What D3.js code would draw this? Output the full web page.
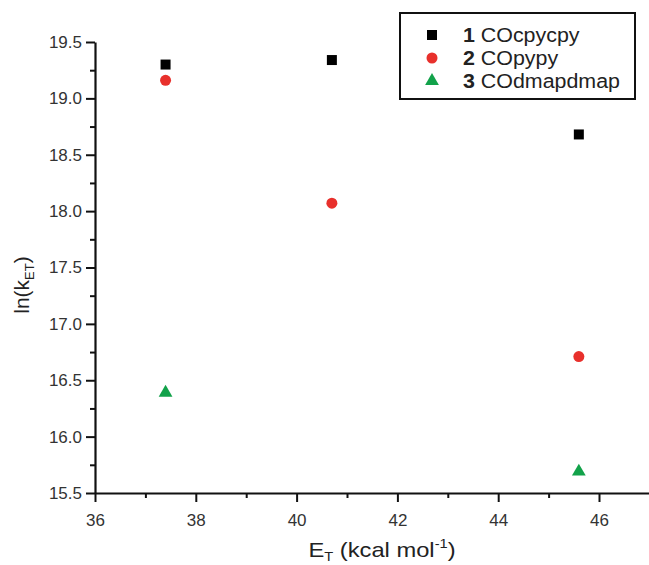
<!DOCTYPE html>
<html><head><meta charset="utf-8">
<script src="https://cdn.jsdelivr.net/npm/d3@7"></script>
<style>
body{margin:0;background:#fff;}
svg{display:block;font-family:"Liberation Sans",Arial,Helvetica,sans-serif;}
</style></head>
<body>
<svg id="chart" width="649" height="565"></svg>
<script>
const xValues = [37.4, 40.7, 45.6];
const series1 = [19.30, 19.34, 18.68];   // 1 COcpycpy
const series2 = [19.16, 18.07, 16.71];   // 2 COpypy
const series3 = [16.39, null, 15.69];    // 3 COdmapdmap
const seriesNames = ["COcpycpy", "COpypy", "COdmapdmap"];
const seriesNums = ["1", "2", "3"];
const xTicks = [36, 38, 40, 42, 44, 46];
const yTicks = [15.5, 16.0, 16.5, 17.0, 17.5, 18.0, 18.5, 19.0, 19.5];

const svg = d3.select("#chart");
const x = d3.scaleLinear().domain([36, 47]).range([95, 649.4]);
const y = d3.scaleLinear().domain([15.5, 19.5]).range([493, 42]);

const xMinor = d3.range(37, 47, 2);
const yMinor = d3.range(15.75, 19.5, 0.5);

const gx = svg.append("g").attr("transform", `translate(0,${y(15.5)})`);
gx.call(d3.axisBottom(x).tickValues(xTicks).tickFormat(d3.format("d")).tickSize(9).tickSizeOuter(0));
const gxm = svg.append("g").attr("transform", `translate(0,${y(15.5)})`);
gxm.call(d3.axisBottom(x).tickValues(xMinor).tickFormat("").tickSize(5).tickSizeOuter(0));
gxm.select(".domain").remove();

const gy = svg.append("g").attr("transform", `translate(${x(36)},0)`);
gy.call(d3.axisLeft(y).tickValues(yTicks).tickFormat(d3.format(".1f")).tickSize(9).tickSizeOuter(0));
const gym = svg.append("g").attr("transform", `translate(${x(36)},0)`);
gym.call(d3.axisLeft(y).tickValues(yMinor).tickFormat("").tickSize(5).tickSizeOuter(0));
gym.select(".domain").remove();

svg.selectAll(".domain").attr("stroke", "#111").attr("stroke-width", 2.2);
svg.selectAll(".tick line").attr("stroke", "#111").attr("stroke-width", 2);
gx.selectAll(".tick text").attr("font-size", 17).attr("fill", "#333").attr("dy", "1.25em")
  .attr("font-family", "Liberation Sans, Arial, sans-serif");
gy.selectAll(".tick text").attr("font-size", 17).attr("fill", "#333").attr("x", -13)
  .attr("font-family", "Liberation Sans, Arial, sans-serif");

// axis labels
const xl = svg.append("text").attr("transform", "translate(382,557) scale(1.13,1)").attr("text-anchor", "middle")
  .attr("font-size", 21).attr("fill", "#222");
xl.append("tspan").text("E");
xl.append("tspan").attr("font-size", 13).attr("dy", 4).text("T");
xl.append("tspan").attr("dy", -4).text(" (kcal mol");
xl.append("tspan").attr("font-size", 13).attr("dy", -9).text("-1");
xl.append("tspan").attr("dy", 9).text(")");

const yl = svg.append("text").attr("transform", "translate(29,285) rotate(-90)").attr("text-anchor", "middle")
  .attr("font-size", 21).attr("fill", "#222");
yl.append("tspan").text("ln(k");
yl.append("tspan").attr("font-size", 13).attr("dy", 5).text("ET");
yl.append("tspan").attr("dy", -5).text(")");

const colors = ["#000000", "#e8302c", "#12a24a"];
const symbols = [d3.symbolSquare, d3.symbolCircle, d3.symbolTriangle];
const symSizes = [100, 95, 82];
const allSeries = [series1, series2, series3];

allSeries.forEach((s, i) => {
  const pts = xValues.map((xv, j) => ({x: xv, y: s[j]})).filter(d => d.y != null);
  svg.append("g").selectAll("path").data(pts).join("path")
    .attr("d", d3.symbol().type(symbols[i]).size(symSizes[i]))
    .attr("transform", d => `translate(${x(d.x)},${y(d.y)})`)
    .attr("fill", colors[i]);
});

// legend
const lg = svg.append("g");
lg.append("rect").attr("x", 400).attr("y", 13).attr("width", 235).attr("height", 86)
  .attr("fill", "#fff").attr("stroke", "#111").attr("stroke-width", 2);
seriesNames.forEach((n, i) => {
  const base = 42 + i * 23;
  lg.append("path").attr("d", d3.symbol().type(symbols[i]).size(symSizes[i])())
    .attr("transform", `translate(432,${base - 7})`).attr("fill", colors[i]);
  const t = lg.append("text").attr("transform", `translate(463,${base}) scale(1.07,1)`)
    .attr("font-size", 20).attr("fill", "#222");
  t.append("tspan").attr("font-weight", "bold").text(seriesNums[i]);
  t.append("tspan").text(" " + n);
});
</script>
</body></html>
